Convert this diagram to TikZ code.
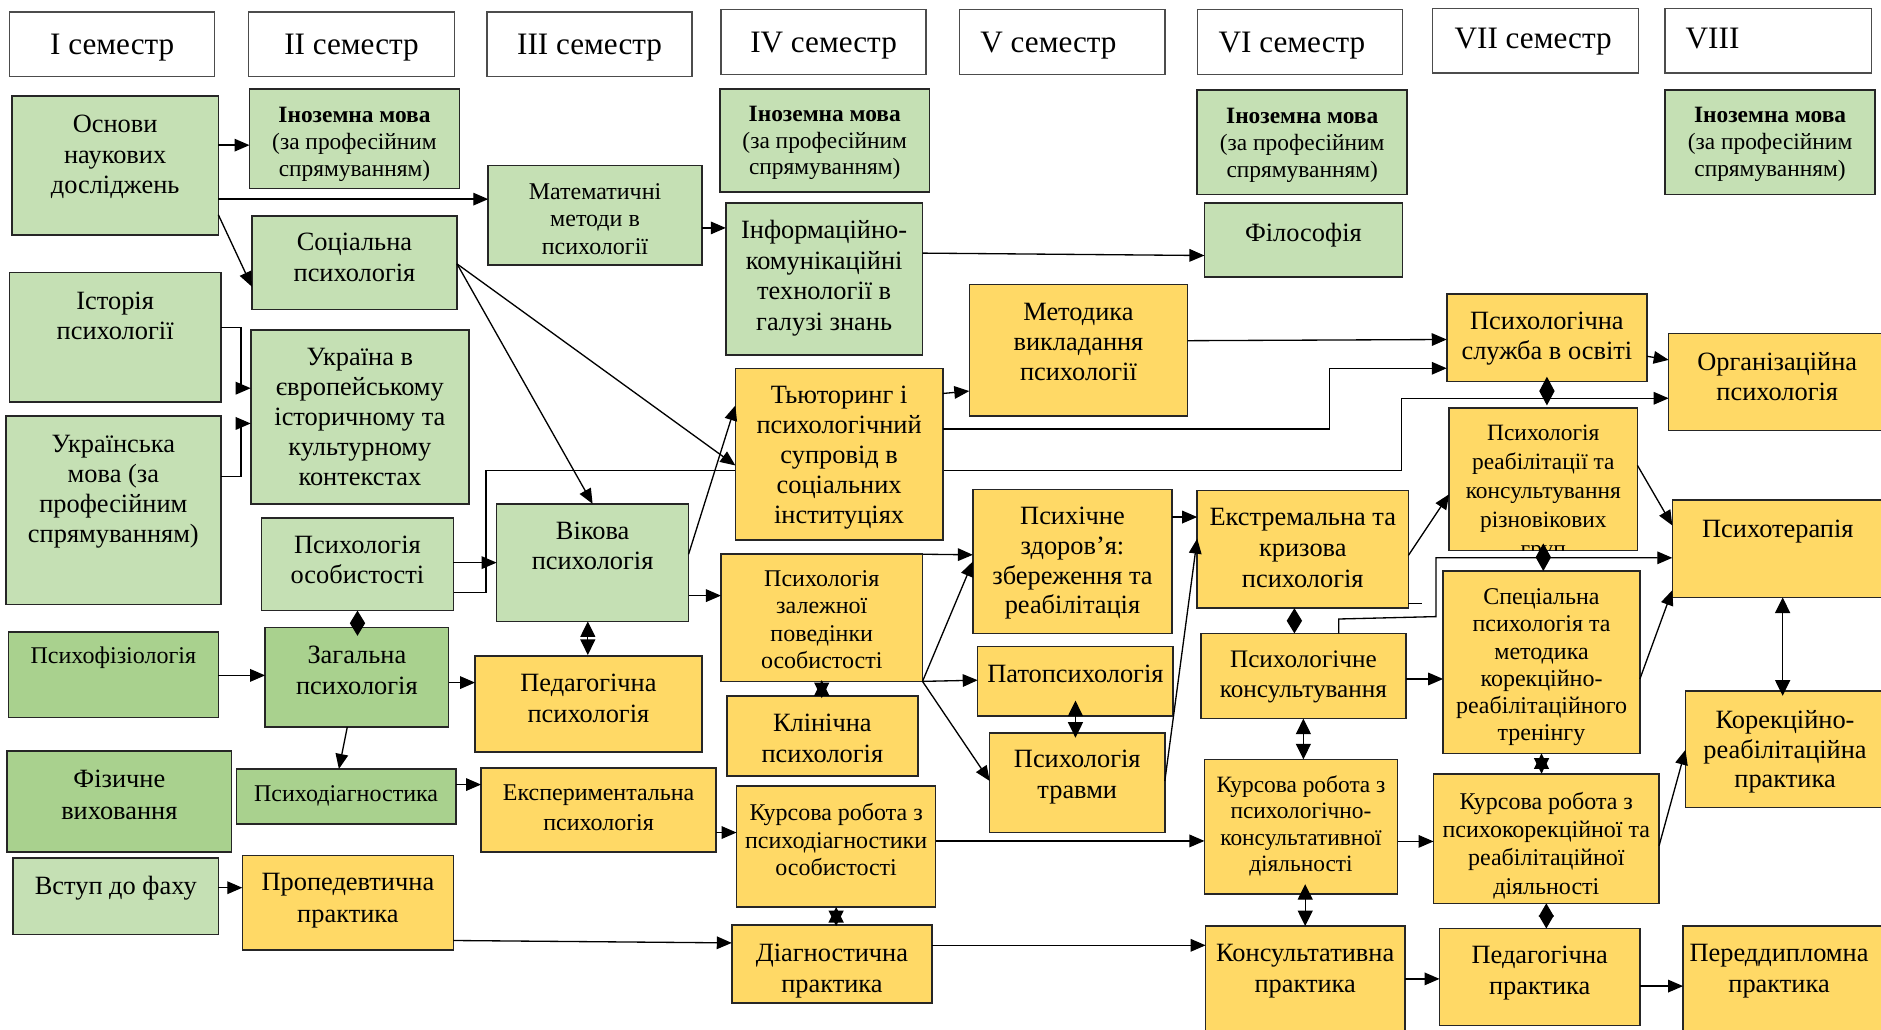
\documentclass[tikz,border=0pt]{standalone}
\usepackage{fontspec}
\setmainfont{Liberation Serif}
\usetikzlibrary{arrows.meta,fit,backgrounds}
\definecolor{lg}{HTML}{C5E0B4}
\definecolor{dg}{HTML}{A9D18E}
\definecolor{yl}{HTML}{FFD966}
\begin{document}
\begin{tikzpicture}[x=1pt,y=-1pt,
  box/.style={draw=black!85, line width=1.3pt, inner sep=0pt, outer sep=0pt},
  bg/.style={box, fill=lg},
  bd/.style={box, fill=dg},
  by/.style={box, fill=yl},
  bh/.style={draw=black!70, line width=1.2pt, fill=white, inner sep=0pt, outer sep=0pt},
  fs/.style 2 args={align=center, inner sep=0pt, anchor=north, text=black, font=\fontsize{#1}{#2}\selectfont},
  con/.style={line width=1.1pt, -{Triangle[length=12.5pt,width=10.5pt]}},
  dbl/.style={line width=1.1pt, {Triangle[length=#1,width=12.5pt]}-{Triangle[length=#1,width=12.5pt]}},
  dbl/.default=13pt,
  ln/.style={line width=1.1pt}]
\useasboundingbox (0,0) rectangle (1568,858);

% ---------- headers ----------
\node[bh, fit={(8,10) (179,64)}] (h1) {};
\node[fs={26}{30}] (h1t) at (h1.north |- 0,28) {I семестр};
\node[bh, fit={(207,10) (379,64)}] (h2) {};
\node[fs={26}{30}] (h2t) at (h2.north |- 0,28) {II семестр};
\node[bh, fit={(406,10) (577,64)}] (h3) {};
\node[fs={26}{30}] (h3t) at (h3.north |- 0,28) {III семестр};
\node[bh, fit={(601,8) (772,62)}] (h4) {};
\node[fs={26}{30}] (h4t) at (h4.north |- 0,26.4) {IV семестр};
\node[bh, fit={(800,8) (971,62)}] (h5) {};
\node[fs={26}{30}] (h5t) at (874,26.4) {V семестр};
\node[bh, fit={(998,8) (1169,62)}] (h6) {};
\node[fs={26}{30}] (h6t) at (1077,26.4) {VI семестр};
\node[bh, fit={(1194,7) (1366,61)}] (h7) {};
\node[fs={26}{30}] (h7t) at (1278,23.6) {VII семестр};
\node[bh, fit={(1388,7) (1560,61)}] (h8) {};
\node[fs={26}{30}, anchor=north west] (h8t) at (1405,23.6) {VIII};

% ---------- light green ----------
\node[bg, fit={(10,80) (182,196)}] (osn) {};
\node[fs={22}{25.5}] (osnt) at (osn.north |- 0,95.8) {Основи\\наукових\\досліджень};
\node[bg, fit={(208,74) (383,157)}] (in2) {};
\node[fs={19.5}{22.3}] (in2t) at (in2.north |- 0,89.4) {\textbf{Іноземна мова}\\(за професійним\\спрямуванням)};
\node[bg, fit={(407,138) (585,221)}] (mat) {};
\node[fs={20}{22.9}] (matt) at (mat.north |- 0,152.8) {Математичні\\методи в\\психології};
\node[bg, fit={(210,180) (381,258)}] (soc) {};
\node[fs={22}{25.5}] (soct) at (soc.north |- 0,194.4) {Соціальна\\психологія};
\node[bg, fit={(8,227) (184,335)}] (ist) {};
\node[fs={22}{25.5}] (istt) at (ist.north |- 0,243) {Історія\\психології};
\node[bg, fit={(209,275) (391,420)}] (ukr) {};
\node[fs={22}{25}] (ukrt) at (ukr.north |- 0,290.3) {Україна в\\європейському\\історичному та\\культурному\\контекстах};
\node[bg, fit={(5,347) (184,504)}] (umov) {};
\node[fs={22}{25}] (umovt) at (umov.north |- 0,362.5) {Українська\\мова (за\\професійним\\спрямуванням)};
\node[bg, fit={(218,432) (378,509)}] (osob) {};
\node[fs={22}{25}] (osobt) at (osob.north |- 0,447) {Психологія\\особистості};
\node[bg, fit={(414,420) (574,518)}] (vik) {};
\node[fs={22}{25.5}] (vikt) at (vik.north |- 0,434.6) {Вікова\\психологія};
\node[bg, fit={(600,74) (775,160)}] (in4) {};
\node[fs={19.5}{22.3}] (in4t) at (in4.north |- 0,88.3) {\textbf{Іноземна мова}\\(за професійним\\спрямуванням)};
\node[bg, fit={(605,169) (769,296)}] (inf) {};
\node[fs={22}{25.6}] (inft) at (inf.north |- 0,183.3) {Інформаційно-\\комунікаційні\\технології в\\галузі знань};
\node[bg, fit={(998,75) (1173,162)}] (in6) {};
\node[fs={19.5}{22.3}] (in6t) at (in6.north |- 0,90.3) {\textbf{Іноземна мова}\\(за професійним\\спрямуванням)};
\node[bg, fit={(1004,169) (1169,231)}] (fil) {};
\node[fs={22}{25}] (filt) at (fil.north |- 0,186) {Філософія};
\node[bg, fit={(1388,75) (1563,162)}] (in8) {};
\node[fs={19.5}{22.3}] (in8t) at (in8.north |- 0,89.4) {\textbf{Іноземна мова}\\(за професійним\\спрямуванням)};
\node[bg, fit={(11,715) (182,779)}] (vstup) {};
\node[fs={22}{25}] (vstupt) at (vstup.north |- 0,730) {Вступ до фаху};

% ---------- dark green ----------
\node[bd, fit={(7,527) (182,598)}] (pfiz) {};
\node[fs={20}{23}] (pfizt) at (pfiz.north |- 0,539.3) {Психофізіологія};
\node[bd, fit={(221,523) (374,606)}] (zag) {};
\node[fs={22}{26.4}] (zagt) at (zag.north |- 0,537.9) {Загальна\\психологія};
\node[bd, fit={(6,626) (193,710)}] (fiz) {};
\node[fs={22}{26}] (fizt) at (fiz.north |- 0,642) {Фізичне\\виховання};
\node[bd, fit={(197,641) (380,687)}] (pdiag) {};
\node[fs={20}{23}] (pdiagt) at (pdiag.north |- 0,654.6) {Психодіагностика};

% ---------- yellow ----------
\node[by, fit={(396,547) (585,627)}] (ped) {};
\node[fs={22}{26.4}] (pedt) at (ped.north |- 0,561.3) {Педагогічна\\психологія};
\node[by, fit={(401,640) (597,710)}] (exp) {};
\node[fs={20}{25.5}] (expt) at (exp.north |- 0,653.7) {Експериментальна\\психологія};
\node[by, fit={(202,713) (378,792)}] (prop) {};
\node[fs={22}{26.4}] (propt) at (prop.north |- 0,728) {Пропедевтична\\практика};
\node[by, fit={(613,307) (786,450)}] (tut) {};
\node[fs={22}{25}] (tutt) at (tut.north |- 0,321.7) {Тьюторинг і\\психологічний\\супровід в\\соціальних\\інституціях};
\node[by, fit={(601,462) (769,568)}] (zal) {};
\node[fs={20}{22.7}] (zalt) at (zal.north |- 0,475.5) {Психологія\\залежної\\поведінки\\особистості};
\node[by, fit={(606,580) (765,647)}] (klin) {};
\node[fs={22}{25.7}] (klint) at (klin.north |- 0,595) {Клінічна\\психологія};
\node[by, fit={(614,655) (780,756)}] (kurs1) {};
\node[fs={20}{23.3}] (kurs1t) at (kurs1.north |- 0,669.1) {Курсова робота з\\психодіагностики\\особистості};
\node[by, fit={(610,771) (777,836)}] (diag) {};
\node[fs={22}{25.7}] (diagt) at (diag.north |- 0,787) {Діагностична\\практика};
\node[by, fit={(808,237) (990,347)}] (met) {};
\node[fs={22}{25}] (mett) at (met.north |- 0,252.8) {Методика\\викладання\\психології};
\node[by, fit={(811,408) (977,528)}] (pzd) {};
\node[fs={22}{24.8}] (pzdt) at (pzd.north |- 0,422.6) {Психічне\\здоров’я:\\збереження та\\реабілітація};
\node[by, fit={(815,539) (978,597)}] (pato) {};
\node[fs={22}{25}] (patot) at (pato.north |- 0,554) {Патопсихологія};
\node[by, fit={(825,611) (971,694)}] (trav) {};
\node[fs={22}{25.5}] (travt) at (trav.north |- 0,625.2) {Психологія\\травми};
\node[by, fit={(998,409) (1174,507)}] (ext) {};
\node[fs={22}{25.7}] (extt) at (ext.north |- 0,423.6) {Екстремальна та\\кризова\\психологія};
\node[by, fit={(1001,528) (1172,599)}] (pkons) {};
\node[fs={21}{25.5}] (pkonst) at (pkons.north |- 0,542) {Психологічне\\консультування};
\node[by, fit={(1004,633) (1165,745)}] (kurs2) {};
\node[fs={19.5}{22}] (kurs2t) at (kurs2.north |- 0,646.4) {Курсова робота з\\психологічно-\\консультативної\\діяльності};
\node[by, fit={(1005,772) (1171,862)}] (konsp) {};
\node[fs={22}{25.7}] (konspt) at (konsp.north |- 0,787) {Консультативна\\практика};
\node[by, fit={(1206,245) (1373,318)}] (psl) {};
\node[fs={22}{25}] (pslt) at (psl.north |- 0,259.7) {Психологічна\\служба в освіті};
\node[by, fit={(1208,340) (1365,459)}] (reab) {};
\begin{scope}
\clip (reab.north west) rectangle (reab.south east);
\node[fs={19.5}{24.2}] (reabt) at (reab.north |- 0,354.2) {Психологія\\реабілітації та\\консультування\\різновікових\\груп};
\end{scope}
\node[by, fit={(1203,476) (1367,628)}] (spec) {};
\node[fs={20}{22.7}] (spect) at (spec.north |- 0,490.6) {Спеціальна\\психологія та\\методика\\корекційно-\\реабілітаційного\\тренінгу};
\node[by, fit={(1195,645) (1383,753)}] (kurs3) {};
\node[fs={20}{23.6}] (kurs3t) at (kurs3.north |- 0,660) {Курсова робота з\\психокорекційної та\\реабілітаційної\\діяльності};
\node[by, fit={(1200,774) (1367,855)}] (pedp) {};
\node[fs={22}{25.7}] (pedpt) at (pedp.north |- 0,788.5) {Педагогічна\\практика};
\node[by, fit={(1391,278) (1572,359)}] (org) {};
\node[fs={22}{25}] (orgt) at (1481.5,293.9) {Організаційна\\психологія};
\node[by, fit={(1394,417) (1572,498)}] (pter) {};
\node[fs={22}{25}] (ptert) at (1482,433.2) {Психотерапія};
\node[by, fit={(1405,576) (1572,673)}] (korp) {};
\node[fs={22}{24.8}] (korpt) at (1488,592) {Корекційно-\\реабілітаційна\\практика};
\node[by, fit={(1403,772) (1572,862)}] (pdipl) {};
\node[fs={22}{25.7}] (pdiplt) at (1483,787) {Переддипломна\\практика};

% ---------- connectors ----------
\draw[con] (osn.east |- 0,121) -- (in2.west |- 0,121);
\draw[con] (osn.east |- 0,166) -- (mat.west |- 0,166);
\draw[con] (osn.east |- 0,179) -- (soc.west |- 0,239);
\draw[con] (ist.east |- 0,273) -| (201,323.6) -- (ukr.west |- 0,323.6);
\draw[con] (umov.east |- 0,397) -| (201,353) -- (ukr.west |- 0,353);
\draw[con] (mat.east |- 0,190) -- (inf.west |- 0,190);
\draw[con] (inf.east |- 0,211) -- (fil.west |- 0,213);
\draw[con] (soc.east |- 0,220) -- (vik.north);
\draw[con] (soc.east |- 0,220) -- (tut.west |- 0,388);
\draw[con] (vik.east |- 0,462) -- (tut.west |- 0,338);
\draw[con] (osob.east |- 0,469) -- (vik.west |- 0,469);
\draw[con] (vik.east |- 0,496.5) -- (zal.west |- 0,496.5);
\draw[dbl] (vik.south -| 490,0) -- ++(0,28);
\draw[dbl=10.5pt] (osob.south) -- ++(0,21);
\draw[con] ([xshift=-8pt]zag.south) -- ([xshift=-6pt]pdiag.north);
\draw[con] (pfiz.east |- 0,563) -- (zag.west |- 0,563);
\draw[con] (zag.east |- 0,569) -- (ped.west |- 0,569);
\draw[con] (pdiag.east |- 0,654) -- (exp.west |- 0,654);
\draw[con] (vstup.east |- 0,740) -- (prop.west |- 0,740);
\draw[con] (prop.east |- 0,784) -- (diag.west |- 0,786);
\draw[con] (exp.east |- 0,694) -- (kurs1.west |- 0,694);
\draw[con] (tut.east |- 0,328) -- (met.west |- 0,326);
\draw[con] (tut.east |- 0,357.5) -| (1108,307) -- (psl.west |- 0,307);
\draw[con] (met.east |- 0,284) -- (psl.west |- 0,283);
\draw[con] (psl.east |- 0,297) -- (org.west |- 0,300);
\draw[con] (zal.north east) -- (pzd.west |- 0,462.5);
\draw[con] (zal.south east) -- (pzd.west |- 0,468);
\draw[con] (zal.south east) -- (pato.west |- 0,567);
\draw[con] (zal.south east) -- (trav.west |- 0,651);
\draw[dbl=13pt] ([yshift=1pt]zal.south) -- ++(0,15);
\draw[dbl=13pt] (kurs1.south) -- ++(0,16);
\draw[dbl] ([yshift=13pt]pato.south) -- ++(0,31);
\draw[con] (pzd.east |- 0,431) -- (ext.west |- 0,431);
\draw[con] (trav.east |- 0,651) -- (ext.west |- 0,449);
\draw[con] (ext.east |- 0,463) -- (reab.west |- 0,412);
\draw[ln] (ext.east |- 0,503) -- ++(11,0);
\draw[dbl=10.5pt] (ext.south -| 1079,0) -- ++(0,21);
\draw[con] ([xshift=29.5pt]pkons.north) -- ++(0,-12) -- (1197,514) -- (1197,465) -- (pter.west |- 0,465);
\draw[con] (pkons.east |- 0,566) -- (spec.west |- 0,566);
\draw[con] (spec.east |- 0,566) -- (pter.west |- 0,492);
\draw[con] (reab.east |- 0,388) -- (pter.west |- 0,438);
\draw[dbl=12pt] ([yshift=4pt]psl.south) -- ++(0,24);
\draw[dbl=11.5pt] ([yshift=6pt]reab.south) -- ++(0,23);
\draw[dbl] (pkons.south) -- (pkons.south |- kurs2.north);
\draw[dbl] ([yshift=8pt]kurs2.south -| 1088,0) -- (konsp.north -| 1088,0);
\draw[dbl=13pt] (spec.south) -- (spec.south |- kurs3.north);
\draw[dbl=11pt] (kurs3.south) -- (kurs3.south |- pedp.north);
\draw[dbl] (pter.south -| 1486,0) -- ++(0,82);
\draw[con] (kurs1.east |- 0,701) -- (kurs2.west |- 0,701);
\draw[con] (diag.east |- 0,788) -- (konsp.west |- 0,788);
\draw[con] (kurs2.east |- 0,701.4) -- (kurs3.west |- 0,701.4);
\draw[con] (kurs3.east |- 0,705) -- (korp.west |- 0,625);
\draw[con] (konsp.east |- 0,816) -- (pedp.west |- 0,816);
\draw[con] (pedp.east |- 0,822) -- (pdipl.west |- 0,822);

\begin{scope}[on background layer]
\fill[white] (0,0) rectangle (1568,858);
\draw[con] (osob.east |- 0,494) -- (405,494) -- (405,392) -- (1168,392) -- (1168,332) -- (org.west |- 0,332);
\end{scope}
\end{tikzpicture}
\end{document}
